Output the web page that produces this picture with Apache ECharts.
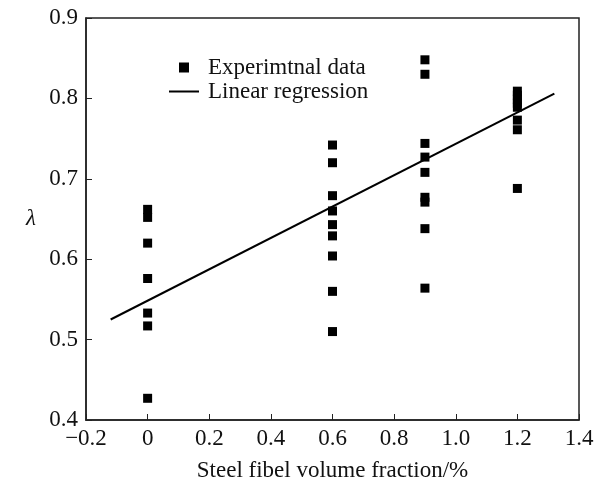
<!DOCTYPE html>
<html><head><meta charset="utf-8">
<script src="https://cdn.jsdelivr.net/npm/echarts@6/dist/echarts.min.js"></script>
<style>html,body{margin:0;padding:0;background:#fff}#c{width:601px;height:486px}</style>
</head><body><div id="c"></div>
<script>
const xTicks = [-0.2, 0, 0.2, 0.4, 0.6, 0.8, 1.0, 1.2, 1.4];
const yTicks = [0.4, 0.5, 0.6, 0.7, 0.8, 0.9];
const fracs = [0, 0.6, 0.9, 1.2];
const lambda0 = [0.662, 0.652, 0.620, 0.576, 0.533, 0.517, 0.427];
const lambda06 = [0.742, 0.720, 0.679, 0.660, 0.643, 0.629, 0.604, 0.560, 0.510];
const lambda09 = [0.848, 0.830, 0.744, 0.727, 0.708, 0.677, 0.671, 0.638, 0.564];
const lambda12 = [0.809, 0.804, 0.799, 0.794, 0.789, 0.773, 0.761, 0.688];
const regX = [-0.12, 1.32];
const regY = [0.525, 0.806];

const groups = [lambda0, lambda06, lambda09, lambda12];
const scatterData = [];
groups.forEach((g, i) => g.forEach(v => scatterData.push([fracs[i], v])));
const lineData = regX.map((x, i) => [x, regY[i]]);

const font = 'Liberation Serif';
const fs = 23;
const chart = echarts.init(document.getElementById('c'));
chart.setOption({
  animation: false,
  grid: { left: 86, right: 22, top: 18, bottom: 66, show: true, borderColor: '#222', borderWidth: 1.5,
          outerBoundsMode: 'none', containLabel: false },
  legend: {
    orient: 'vertical', left: 164, top: 51, itemGap: 1, itemWidth: 30, itemHeight: 10,
    textStyle: { fontFamily: font, fontSize: fs, color: '#111', padding: [0, 0, 0, 4] },
    data: [{ name: 'Experimtnal data', icon: 'path://M10.5,0.5 H19.5 V9.5 H10.5 Z' },
           { name: 'Linear regression', icon: 'path://M0,4 H30 V6 H0 Z' }]
  },
  xAxis: {
    type: 'value', min: -0.2, max: 1.4, interval: 0.2,
    name: 'Steel fibel volume fraction/%', nameLocation: 'middle', nameGap: 39,
    nameTextStyle: { fontFamily: font, fontSize: fs, color: '#111' },
    axisLine: { onZero: false, lineStyle: { color: '#222', width: 1.5 } },
    axisTick: { inside: true, length: 6, lineStyle: { color: '#222' } },
    splitLine: { show: false },
    axisLabel: { fontFamily: font, fontSize: fs, color: '#111', margin: 7,
      formatter: v => { const t = xTicks.find(a => Math.abs(a - v) < 1e-6); return t === 0 ? '0' : (t < 0 ? '\u2212' + Math.abs(t).toFixed(1) : t.toFixed(1)); } }
  },
  yAxis: {
    type: 'value', min: 0.4, max: 0.9, interval: 0.1,
    name: 'λ', nameLocation: 'middle', nameGap: 50, nameRotate: 0,
    nameTextStyle: { fontFamily: font, fontSize: fs, fontStyle: 'italic', color: '#111' },
    axisLine: { onZero: false, lineStyle: { color: '#222', width: 1.5 } },
    axisTick: { inside: true, length: 6, lineStyle: { color: '#222' } },
    splitLine: { show: false },
    axisLabel: { fontFamily: font, fontSize: fs, color: '#111', margin: 8,
      formatter: v => yTicks.find(a => Math.abs(a - v) < 1e-6).toFixed(1) }
  },
  series: [
    { name: 'Experimtnal data', type: 'scatter', data: scatterData, symbol: 'rect', symbolSize: 9,
      itemStyle: { color: '#000', opacity: 1 } },
    { name: 'Linear regression', type: 'line', data: lineData, showSymbol: false, symbol: 'none',
      lineStyle: { color: '#000', width: 2 }, itemStyle: { color: '#000' } }
  ]
});
</script></body></html>
